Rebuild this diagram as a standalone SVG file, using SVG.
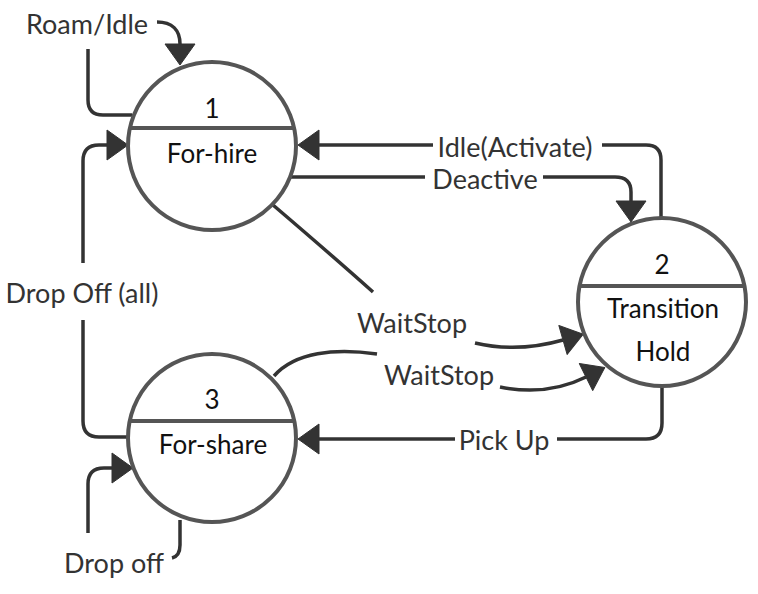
<svg xmlns="http://www.w3.org/2000/svg" width="758" height="594" viewBox="0 0 758 594">
<style>
.node circle{fill:#fff;stroke:#555;stroke-width:4}
.node line{stroke:#555;stroke-width:4}
.nt{font-family:Lato,"Open Sans",sans-serif;font-size:26px;fill:#111;text-anchor:middle}
.lbl{font-family:Lato,"Open Sans",sans-serif;font-size:27px;fill:#333;text-anchor:middle}
.edge path{fill:none;stroke:#333;stroke-width:3.5;stroke-linecap:butt}
</style>
<defs>
<marker id="ah" markerUnits="userSpaceOnUse" markerWidth="24" markerHeight="32" refX="0" refY="15" orient="auto" viewBox="-1 -1 24 32">
<path d="M0,0 L21,15 L0,30 Z" fill="#333" stroke="#333" stroke-width="1" stroke-linejoin="round"/>
</marker>
</defs>
<rect width="758" height="594" fill="#fff"/>
<g id="connectors" class="edge">
<path d="M132,115 H103 Q88,115 88,100 V49"/>
<path d="M157,22 C172,22 180,30 180,44" marker-end="url(#ah)"/>
<path d="M661,218 V160 Q661,145 646,145 H602"/>
<path d="M433,145 H319" marker-end="url(#ah)"/>
<path d="M290,177 H425"/>
<path d="M543,177 H615 Q631,177 631,192 V201" marker-end="url(#ah)"/>
<path d="M273,205 Q335,258 373,292"/>
<path d="M475,343 C505,350 535,348 563,340" marker-end="url(#ah)"/>
<path d="M274,376 C295,352 335,348 377,354"/>
<path d="M500,387 C530,393 560,390 586,377" marker-end="url(#ah)"/>
<path d="M662,387 V423 Q662,439 646,439 H557"/>
<path d="M455,439 H319" marker-end="url(#ah)"/>
<path d="M128,437 H99 Q83,437 83,421 V320"/>
<path d="M83,263 V161 Q83,145 99,145 H107" marker-end="url(#ah)"/>
<path d="M180,520 V545 Q180,556 172,558"/>
<path d="M88,533 V484 Q88,468 104,468 H112" marker-end="url(#ah)"/>
</g>
<g id="labels">
<text class="lbl" x="87" y="34">Roam/Idle</text>
<text class="lbl" x="515" y="157">Idle(Activate)</text>
<text class="lbl" x="485" y="189">Deactive</text>
<text class="lbl" x="412" y="333">WaitStop</text>
<text class="lbl" x="439" y="385">WaitStop</text>
<text class="lbl" x="504" y="450">Pick Up</text>
<text class="lbl" x="82" y="303">Drop Off (all)</text>
<text class="lbl" x="114" y="573">Drop off</text>
</g>
<g id="node1" class="node">
<circle cx="212" cy="146" r="84"/>
<line x1="130" y1="128" x2="294" y2="128"/>
<text class="nt" x="212" y="118">1</text>
<text class="nt" x="212" y="163">For-hire</text>
</g>
<g id="node2" class="node">
<circle cx="662" cy="302" r="84"/>
<line x1="580" y1="286" x2="744" y2="286"/>
<text class="nt" x="662" y="274">2</text>
<text class="nt" x="663" y="318">Transition</text>
<text class="nt" x="663" y="361">Hold</text>
</g>
<g id="node3" class="node">
<circle cx="212" cy="438" r="84"/>
<line x1="130" y1="421" x2="294" y2="421"/>
<text class="nt" x="212" y="409">3</text>
<text class="nt" x="213" y="454">For-share</text>
</g>
</svg>
